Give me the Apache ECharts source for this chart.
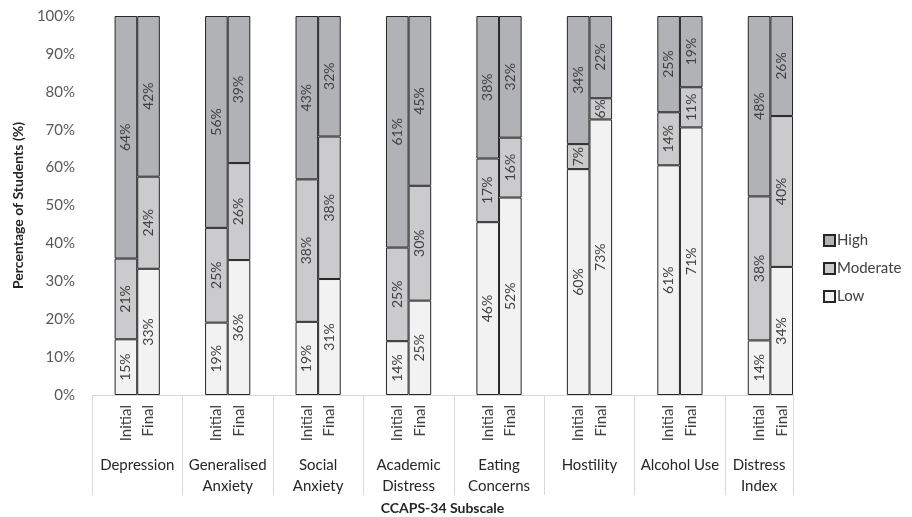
<!DOCTYPE html>
<html>
<head>
<meta charset="utf-8">
<script src="https://cdn.jsdelivr.net/npm/echarts@6/dist/echarts.min.js"></script>
<style>
  html, body { margin: 0; padding: 0; background: #fff; }
  #chart { width: 912px; height: 517px; }
</style>
</head>
<body>
<div id="chart"></div>
<script>
  // subscales and the two measurement points
  var groups = ['Depression', 'Generalised\nAnxiety', 'Social\nAnxiety', 'Academic\nDistress',
    'Eating\nConcerns', 'Hostility', 'Alcohol Use', 'Distress\nIndex'];
  var phases = ['Initial', 'Final'];

  // percentage of students per level
  var lowInitial = [14.7, 19.1, 19.3, 14.2, 45.6, 59.6, 60.6, 14.4];
  var lowFinal = [33.3, 35.6, 30.6, 24.9, 52.1, 72.7, 70.6, 33.8];
  var modInitial = [21.3, 25.0, 37.6, 24.7, 16.8, 6.6, 14.0, 38.0];
  var modFinal = [24.3, 25.6, 37.6, 30.3, 15.8, 5.6, 10.6, 39.8];
  var highInitial = [64.0, 55.9, 43.1, 61.1, 37.6, 33.8, 25.4, 47.6];
  var highFinal = [42.4, 38.8, 31.8, 44.8, 32.1, 21.7, 18.8, 26.4];

  var yTicks = [0, 10, 20, 30, 40, 50, 60, 70, 80, 90, 100];

  var font = 'Lato, "Noto Sans", sans-serif';

  // each group takes slots: gap, Initial, Final, gap (last one has no trailing gap)
  var slots = [], low = [], mod = [], high = [];
  groups.forEach(function (g, i) {
    slots.push(''); low.push(null); mod.push(null); high.push(null);
    slots.push(phases[0]); low.push(lowInitial[i]); mod.push(modInitial[i]); high.push(highInitial[i]);
    slots.push(phases[1]); low.push(lowFinal[i]); mod.push(modFinal[i]); high.push(highFinal[i]);
    if (i < groups.length - 1) {
      slots.push(''); low.push(null); mod.push(null); high.push(null);
    }
  });

  // second axis in half slots, for group names and separators
  var halfPts = [], sepIdx = {};
  for (var j = 0; j <= slots.length * 2; j++) halfPts.push('');
  groups.forEach(function (g, i) {
    sepIdx[i * 8] = true;
    var mid = i < groups.length - 1 ? i * 8 + 4 : (i * 8 + slots.length * 2) / 2;
    halfPts[mid] = g;
  });
  sepIdx[slots.length * 2] = true;

  var barLabel = {
    show: true,
    position: 'inside',
    rotate: 90,
    color: '#404040',
    fontSize: 14,
    fontFamily: font,
    formatter: function (p) { return Math.round(p.value) + '%'; }
  };

  function mkSeries(name, data, color) {
    return {
      name: name,
      type: 'bar',
      stack: 'total',
      data: data,
      barCategoryGap: '0%',
      itemStyle: { color: color, borderColor: '#262626', borderWidth: 1 },
      label: barLabel,
      emphasis: { disabled: true }
    };
  }

  var myChart = echarts.init(document.getElementById('chart'));
  var option = {
    animation: false,
    textStyle: { fontFamily: font },
    grid: { left: 92, right: 119, top: 16, bottom: 122, outerBoundsMode: 'none', containLabel: false },
    legend: {
      orient: 'vertical',
      left: 818,
      top: 228,
      itemWidth: 11,
      itemHeight: 11,
      itemGap: 13,
      icon: 'rect',
      data: ['High', 'Moderate', 'Low'],
      textStyle: { color: '#404040', fontSize: 15, fontFamily: font, padding: [0, 0, 0, -3] }
    },
    xAxis: [{
      type: 'category',
      data: slots,
      axisLine: { lineStyle: { color: '#d9d9d9' } },
      axisTick: { show: false },
      axisLabel: { interval: 0, rotate: 90, margin: 10, color: '#404040', fontSize: 15, fontFamily: font }
    }, {
      type: 'category',
      position: 'bottom',
      boundaryGap: false,
      data: halfPts,
      name: 'CCAPS-34 Subscale',
      nameLocation: 'middle',
      nameGap: 104,
      nameTextStyle: { fontWeight: 'bold', color: '#262626', fontSize: 14, fontFamily: font },
      axisLine: { show: false },
      axisTick: {
        show: true,
        length: 100,
        interval: function (idx) { return !!sepIdx[idx]; },
        lineStyle: { color: '#d9d9d9' }
      },
      axisLabel: {
        interval: 0,
        margin: 60,
        lineHeight: 21,
        color: '#262626',
        fontSize: 15,
        fontFamily: font
      }
    }],
    yAxis: {
      type: 'value',
      min: yTicks[0],
      max: yTicks[yTicks.length - 1],
      interval: yTicks[1] - yTicks[0],
      name: 'Percentage of Students (%)',
      nameLocation: 'middle',
      nameGap: 62,
      nameTextStyle: { fontWeight: 'bold', color: '#262626', fontSize: 14, fontFamily: font },
      splitLine: { show: false },
      axisLine: { show: false },
      axisTick: { show: false },
      axisLabel: { margin: 17, color: '#595959', fontSize: 15, fontFamily: font, formatter: '{value}%' }
    },
    series: [
      mkSeries('Low', low, '#f2f2f3'),
      mkSeries('Moderate', mod, '#cbcbcd'),
      mkSeries('High', high, '#b1b2b5')
    ]
  };
  myChart.setOption(option);
  window.addEventListener('resize', function () { myChart.resize(); });
</script>
</body>
</html>
